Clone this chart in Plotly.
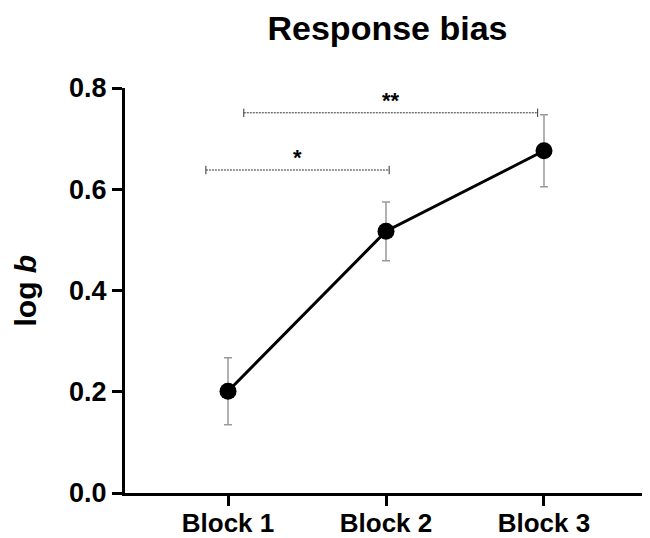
import plotly.graph_objects as go

# Data
blocks = ["Block 1", "Block 2", "Block 3"]
mean_log_b = [0.201, 0.517, 0.676]
sem_log_b = [0.066, 0.058, 0.071]

# Significance comparisons (x positions in category units, y in data units)
sig_x0 = [-0.14, 0.10]
sig_x1 = [1.02, 1.96]
sig_y = [0.638, 0.751]
sig_labels = ["*", "**"]

yticks = [0.0, 0.2, 0.4, 0.6, 0.8]
ytick_text = ["0.0", "0.2", "0.4", "0.6", "0.8"]

FONT = "Arial, Liberation Sans, Helvetica, sans-serif"
xpos = list(range(len(blocks)))

fig = go.Figure()

# Significance brackets
for x0, x1, y, lab in zip(sig_x0, sig_x1, sig_y, sig_labels):
    fig.add_trace(go.Scatter(
        x=[x0, x1], y=[y, y], mode="lines+markers",
        line=dict(color="#333333", width=1, dash="2px,1px"),
        marker=dict(symbol="line-ns", size=6, line=dict(color="#333333", width=1)),
        hoverinfo="skip", showlegend=False, cliponaxis=False,
    ))
    fig.add_annotation(
        x=(x0 + x1) / 2, y=y, text="<b>" + lab + "</b>", showarrow=False,
        yanchor="bottom", yshift=-2, font=dict(family=FONT, size=22, color="black"),
    )

# Main line with error bars
fig.add_trace(go.Scatter(
    x=xpos, y=mean_log_b, mode="lines+markers",
    line=dict(color="black", width=3),
    marker=dict(color="black", size=17),
    error_y=dict(type="data", array=sem_log_b, visible=True,
                 color="#999999", thickness=1.5, width=4),
    showlegend=False, cliponaxis=False,
))

fig.update_layout(
    width=650, height=538,
    margin=dict(l=117, r=8, t=80, b=53),
    paper_bgcolor="white", plot_bgcolor="white",
    title=dict(text="<b>Response bias</b>", x=0.5, xref="paper",
               y=1 - 20 / 538, yref="container", yanchor="middle", xanchor="center",
               font=dict(family=FONT, size=34, color="black")),
    font=dict(family=FONT, color="black"),
)

fig.update_xaxes(
    range=[-0.652, 2.671], tickvals=xpos, ticktext=["<b>" + b + "</b>" for b in blocks],
    showline=True, linecolor="black", linewidth=3,
    ticks="outside", ticklen=10, tickwidth=3, tickcolor="black",
    showgrid=False, zeroline=False, automargin=False, ticklabelstandoff=-5,
    tickfont=dict(family=FONT, size=26, color="black"),
)
fig.update_yaxes(
    range=[0, 0.8], tickvals=yticks, ticktext=["<b>" + t + "</b>" for t in ytick_text],
    showline=True, linecolor="black", linewidth=3,
    ticks="outside", ticklen=10, tickwidth=3, tickcolor="black",
    showgrid=False, zeroline=False, automargin=False,
    tickfont=dict(family=FONT, size=27, color="black"),
)

fig.add_annotation(
    x=-100 / 525, y=0.5, xref="paper", yref="paper", text="<b>log <i>b</i></b>",
    textangle=-90, showarrow=False, xanchor="center", yanchor="middle",
    font=dict(family=FONT, size=30, color="black"),
)

fig.write_html("out.html")
